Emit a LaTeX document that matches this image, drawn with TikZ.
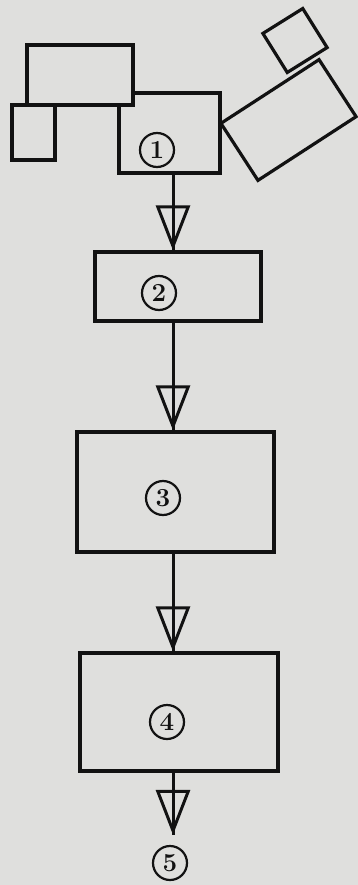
\documentclass[tikz,border=0pt]{standalone}
\usetikzlibrary{arrows.meta}
\definecolor{bgc}{RGB}{223,223,221}
\definecolor{ink}{RGB}{18,18,18}
\tikzset{
  box/.style={draw=ink, line width=3.2pt, rectangle, inner sep=0pt, fill=bgc},
  num/.style={draw=ink, line width=2.2pt, circle, minimum size=34pt, inner sep=0pt,
    text=ink, font=\fontsize{26}{26}\selectfont\bfseries},
  stem/.style={draw=ink, line width=3pt},
  conn/.style={draw=ink, line width=3pt,
    -{Triangle[open, length=45pt, width=34pt, line width=3pt]}}
}
\begin{document}
\begin{tikzpicture}[x=1pt, y=-1pt]
\fill[bgc] (0,0) rectangle (358,885);
\useasboundingbox (0,0) rectangle (358,885);
% box 1 and its neighbours
\node[box, minimum width=101pt, minimum height=80pt] (b1) at (169.5,133) {};
\node[box, minimum width=106pt, minimum height=60pt] (tl) at (80,75) {};
\node[box, minimum width=43pt, minimum height=55pt] (sq) at (33.5,132.5) {};
\node[box, minimum width=117pt, minimum height=68pt, rotate=33] (tr) at (288.5,120) {};
\node[box, minimum width=47pt, minimum height=46pt, rotate=32] (ts) at (295,40.5) {};
% main boxes
\node[box, minimum width=166pt, minimum height=69pt] (b2) at (178,286.5) {};
\node[box, minimum width=197pt, minimum height=120pt] (b3) at (175.5,492) {};
\node[box, minimum width=198pt, minimum height=118pt] (b4) at (179,712) {};
% labels
\node[num] (n1) at (157,150) {1};
\node[num] (n2) at (159,293) {2};
\node[num] (n3) at (163,498) {3};
\node[num] (n4) at (167,722) {4};
\node[num] (n5) at (170,863) {5};
% connectors
\coordinate (ax) at (173,0);
\draw[stem] (ax |- b1.south) -- (ax |- b2.north);
\draw[conn] (ax |- b1.south) -- (ax |- b2.north);
\draw[stem] (ax |- b2.south) -- (ax |- b3.north);
\draw[conn] (ax |- b2.south) -- (ax |- b3.north);
\draw[stem] (ax |- b3.south) -- (ax |- b4.north);
\draw[conn] (ax |- b3.south) -- (ax |- b4.north);
\draw[stem] (ax |- b4.south) -- ([yshift=10pt]ax |- n5.north);
\draw[conn] (ax |- b4.south) -- ([yshift=10pt]ax |- n5.north);
\end{tikzpicture}
\end{document}
